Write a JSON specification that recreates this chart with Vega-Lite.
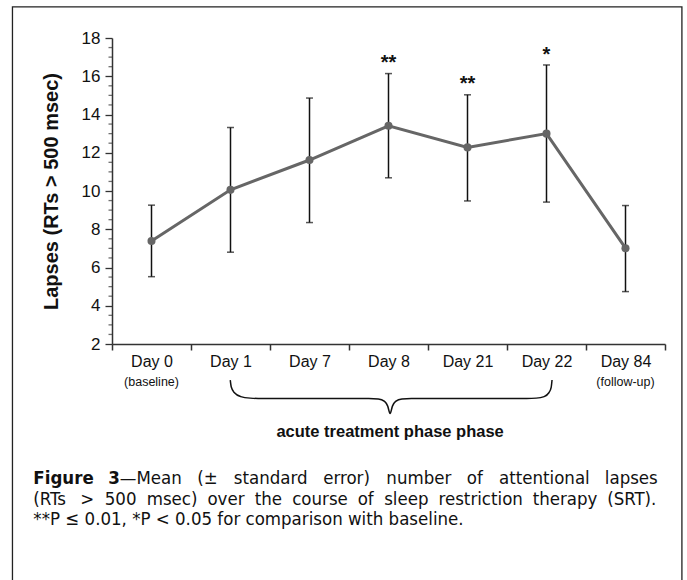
{
  "$schema": "https://vega.github.io/schema/vega-lite/v6.json",
  "width": 553,
  "height": 306,
  "autosize": {"type": "none"},
  "padding": {"left": 112, "top": 38, "right": 22, "bottom": 236},
  "background": "white",
  "config": {"view": {"stroke": null}, "font": "Liberation Sans"},
  "datasets": {
    "pts": [
      {"idx": 0, "day": "Day 0", "mean": 7.39, "lo": 5.52, "hi": 9.26},
      {"idx": 1, "day": "Day 1", "mean": 10.06, "lo": 6.8, "hi": 13.32},
      {"idx": 2, "day": "Day 7", "mean": 11.62, "lo": 8.35, "hi": 14.86},
      {"idx": 3, "day": "Day 8", "mean": 13.41, "lo": 10.69, "hi": 16.14},
      {"idx": 4, "day": "Day 21", "mean": 12.28, "lo": 9.48, "hi": 15.03},
      {"idx": 5, "day": "Day 22", "mean": 13.0, "lo": 9.42, "hi": 16.59},
      {"idx": 6, "day": "Day 84", "mean": 7.01, "lo": 4.74, "hi": 9.24}
    ],
    "minor": [
      {"v": 2.5}, {"v": 3}, {"v": 3.5}, {"v": 4.5}, {"v": 5}, {"v": 5.5},
      {"v": 6.5}, {"v": 7}, {"v": 7.5}, {"v": 8.5}, {"v": 9}, {"v": 9.5},
      {"v": 10.5}, {"v": 11}, {"v": 11.5}, {"v": 12.5}, {"v": 13}, {"v": 13.5},
      {"v": 14.5}, {"v": 15}, {"v": 15.5}, {"v": 16.5}, {"v": 17}, {"v": 17.5}
    ],
    "stars": [
      {"idx": 3, "y": 16.37, "t": "**"},
      {"idx": 4, "y": 15.27, "t": "**"},
      {"idx": 5, "y": 16.79, "t": "*"}
    ],
    "brace": [
      {"bx": 0.997, "by": 0.115},
      {"bx": 1.01, "by": -0.25},
      {"bx": 1.05, "by": -0.55},
      {"bx": 1.13, "by": -0.75},
      {"bx": 1.25, "by": -0.83},
      {"bx": 1.35, "by": -0.845},
      {"bx": 2.75, "by": -0.845},
      {"bx": 2.87, "by": -0.87},
      {"bx": 2.95, "by": -1.0},
      {"bx": 2.99, "by": -1.25},
      {"bx": 3.02, "by": -1.63},
      {"bx": 3.05, "by": -1.25},
      {"bx": 3.09, "by": -1.0},
      {"bx": 3.17, "by": -0.87},
      {"bx": 3.29, "by": -0.845},
      {"bx": 4.75, "by": -0.845},
      {"bx": 4.87, "by": -0.83},
      {"bx": 4.97, "by": -0.75},
      {"bx": 5.03, "by": -0.55},
      {"bx": 5.06, "by": -0.25},
      {"bx": 5.07, "by": 0.115}
    ],
    "sub": [
      {"idx": 0, "y": 0.0, "t": "(baseline)"},
      {"idx": 6, "y": 0.0, "t": "(follow-up)"}
    ],
    "phase": [
      {"idx": 3.02, "y": -2.6, "t": "acute treatment phase phase"}
    ],
    "capbold": [
      {"cx": -1.4956, "cy": -5.0, "t": "Figure"},
      {"cx": -0.5462, "cy": -5.0, "t": "3"}
    ],
    "cap": [
      {"cx": -0.4018, "cy": -5.0, "t": "—Mean"},
      {"cx": 0.5789, "cy": -5.0, "t": "(±"},
      {"cx": 1.0417, "cy": -5.0, "t": "standard"},
      {"cx": 2.1737, "cy": -5.0, "t": "error)"},
      {"cx": 2.973, "cy": -5.0, "t": "number"},
      {"cx": 3.9907, "cy": -5.0, "t": "of"},
      {"cx": 4.3987, "cy": -5.0, "t": "attentional"},
      {"cx": 5.738, "cy": -5.0, "t": "lapses"},
      {"cx": -1.4956, "cy": -6.1, "t": "(RTs"},
      {"cx": -0.9004, "cy": -6.1, "t": ">"},
      {"cx": -0.5913, "cy": -6.1, "t": "500"},
      {"cx": -0.0603, "cy": -6.1, "t": "msec)"},
      {"cx": 0.7077, "cy": -6.1, "t": "over"},
      {"cx": 1.3056, "cy": -6.1, "t": "the"},
      {"cx": 1.7812, "cy": -6.1, "t": "course"},
      {"cx": 2.61, "cy": -6.1, "t": "of"},
      {"cx": 2.9453, "cy": -6.1, "t": "sleep"},
      {"cx": 3.6332, "cy": -6.1, "t": "restriction"},
      {"cx": 4.8253, "cy": -6.1, "t": "therapy"},
      {"cx": 5.768, "cy": -6.1, "t": "(SRT)."},
      {"cx": -1.4956, "cy": -7.15, "t": "**P ≤ 0.01, *P < 0.05 for comparison with baseline."}
    ],
    "frame": [
      {"x1": -1.76, "x2": 6.714, "y1": 19.63, "y2": -11}
    ]
  },
  "layer": [
    {
      "data": {"name": "frame"},
      "mark": {"type": "rect", "fill": null, "stroke": "#222", "strokeWidth": 1.3},
      "encoding": {
        "x": {"field": "x1", "type": "quantitative",
          "scale": {"domain": [-0.5, 6.5], "nice": false, "zero": false},
          "axis": {
            "values": [-0.5, 0.5, 1.5, 2.5, 3.5, 4.5, 5.5, 6.5],
            "tickCount": 20,
            "labelExpr": "['Day 0','Day 1','Day 7','Day 8','Day 21','Day 22','Day 84',''][datum.value + 0.5]",
            "labelOffset": 39.5,
            "labelFlush": false,
            "labelOverlap": false,
            "labelFontSize": 16,
            "labelColor": "#111",
            "labelPadding": 3,
            "tickSize": 6,
            "tickWidth": 1.5,
            "tickColor": "#333",
            "domainColor": "#333",
            "domainWidth": 1.5,
            "grid": false,
            "title": null
          }
        },
        "x2": {"field": "x2"},
        "y": {"field": "y1", "type": "quantitative",
          "scale": {"domain": [2, 18], "nice": false, "zero": false},
          "axis": {
            "values": [2, 4, 6, 8, 10, 12, 14, 16, 18],
            "tickCount": 20,
            "labelOverlap": false,
            "labelFontSize": 17,
            "labelColor": "#111",
            "labelPadding": 5,
            "tickSize": 7,
            "tickWidth": 1.3,
            "tickColor": "#333",
            "domainColor": "#333",
            "domainWidth": 1.5,
            "grid": false,
            "title": "Lapses (RTs > 500 msec)",
            "titleFontSize": 20,
            "titleFontWeight": "bold",
            "titleColor": "#111",
            "titlePadding": 20
          }
        },
        "y2": {"field": "y2"}
      }
    },
    {
      "data": {"name": "minor"},
      "mark": {"type": "tick", "orient": "horizontal", "color": "#333", "size": 3.5, "thickness": 1.3, "xOffset": -1.75},
      "encoding": {
        "x": {"datum": -0.5, "type": "quantitative"},
        "y": {"field": "v", "type": "quantitative"}
      }
    },
    {
      "data": {"name": "pts"},
      "mark": {"type": "rule", "color": "#111", "strokeWidth": 1.5},
      "encoding": {
        "x": {"field": "idx", "type": "quantitative"},
        "y": {"field": "lo", "type": "quantitative"},
        "y2": {"field": "hi"}
      }
    },
    {
      "data": {"name": "pts"},
      "mark": {"type": "tick", "orient": "horizontal", "color": "#111", "size": 7, "thickness": 1.5},
      "encoding": {
        "x": {"field": "idx", "type": "quantitative"},
        "y": {"field": "lo", "type": "quantitative"}
      }
    },
    {
      "data": {"name": "pts"},
      "mark": {"type": "tick", "orient": "horizontal", "color": "#111", "size": 7, "thickness": 1.5},
      "encoding": {
        "x": {"field": "idx", "type": "quantitative"},
        "y": {"field": "hi", "type": "quantitative"}
      }
    },
    {
      "data": {"name": "pts"},
      "mark": {"type": "line", "color": "#666", "strokeWidth": 3},
      "encoding": {
        "x": {"field": "idx", "type": "quantitative"},
        "y": {"field": "mean", "type": "quantitative"}
      }
    },
    {
      "data": {"name": "pts"},
      "mark": {"type": "point", "filled": true, "color": "#666", "size": 65, "opacity": 1},
      "encoding": {
        "x": {"field": "idx", "type": "quantitative"},
        "y": {"field": "mean", "type": "quantitative"}
      }
    },
    {
      "data": {"name": "stars"},
      "mark": {"type": "text", "fontSize": 20, "fontWeight": "bold", "color": "#111", "baseline": "alphabetic"},
      "encoding": {
        "x": {"field": "idx", "type": "quantitative"},
        "y": {"field": "y", "type": "quantitative"},
        "text": {"field": "t"}
      }
    },
    {
      "data": {"name": "brace"},
      "mark": {"type": "line", "color": "#111", "strokeWidth": 1.5, "interpolate": "monotone"},
      "encoding": {
        "x": {"field": "bx", "type": "quantitative"},
        "y": {"field": "by", "type": "quantitative"}
      }
    },
    {
      "data": {"name": "sub"},
      "mark": {"type": "text", "fontSize": 12.5, "color": "#111", "baseline": "middle"},
      "encoding": {
        "x": {"field": "idx", "type": "quantitative"},
        "y": {"field": "y", "type": "quantitative"},
        "text": {"field": "t"}
      }
    },
    {
      "data": {"name": "phase"},
      "mark": {"type": "text", "fontSize": 16.5, "fontWeight": "bold", "color": "#111", "baseline": "middle"},
      "encoding": {
        "x": {"field": "idx", "type": "quantitative"},
        "y": {"field": "y", "type": "quantitative"},
        "text": {"field": "t"}
      }
    },
    {
      "data": {"name": "capbold"},
      "mark": {"type": "text", "fontSize": 18.5, "fontWeight": "bold", "color": "#111", "align": "left", "baseline": "middle", "font": "DejaVu Sans Condensed, Liberation Sans"},
      "encoding": {
        "x": {"field": "cx", "type": "quantitative"},
        "y": {"field": "cy", "type": "quantitative"},
        "text": {"field": "t"}
      }
    },
    {
      "data": {"name": "cap"},
      "mark": {"type": "text", "fontSize": 18.5, "color": "#111", "align": "left", "baseline": "middle", "font": "DejaVu Sans Condensed, Liberation Sans"},
      "encoding": {
        "x": {"field": "cx", "type": "quantitative"},
        "y": {"field": "cy", "type": "quantitative"},
        "text": {"field": "t"}
      }
    }
  ]
}
